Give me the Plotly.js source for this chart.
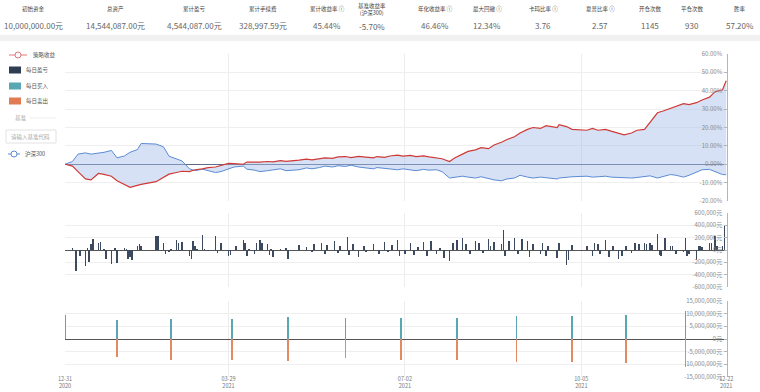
<!DOCTYPE html>
<html><head><meta charset="utf-8">
<script src="https://cdn.plot.ly/plotly-3.0.1.min.js"></script>
<style>html,body{margin:0;padding:0;background:#fff;}#chart{width:760px;height:392px;}</style>
</head><body><div id="chart"></div>
<script>
// ---------- DATA ----------
const headerLabels = ["初始资金","总资产","累计盈亏","累计手续费","累计收益率 ⓘ","基准收益率<br>(沪深300)","年化收益率 ⓘ","最大回撤 ⓘ","卡玛比率 ⓘ","夏普比率 ⓘ","开仓次数","平仓次数","胜率"];
const headerValues = ["10,000,000.00元","14,544,087.00元","4,544,087.00元","328,997.59元","45.44%","-5.70%","46.46%","12.34%","3.76","2.57","1145","930","57.20%"];

const curveDates = ["2020-12-31","2021-01-04","2021-01-07","2021-01-11","2021-01-14","2021-01-18","2021-01-21","2021-01-25","2021-01-28","2021-02-01","2021-02-04","2021-02-08","2021-02-10","2021-02-18","2021-02-22","2021-02-25","2021-03-01","2021-03-04","2021-03-08","2021-03-11","2021-03-15","2021-03-18","2021-03-22","2021-03-25","2021-03-29","2021-04-01","2021-04-06","2021-04-08","2021-04-12","2021-04-15","2021-04-19","2021-04-22","2021-04-26","2021-04-29","2021-05-06","2021-05-10","2021-05-13","2021-05-17","2021-05-20","2021-05-24","2021-05-27","2021-05-31","2021-06-03","2021-06-07","2021-06-10","2021-06-15","2021-06-17","2021-06-21","2021-06-24","2021-06-28","2021-07-01","2021-07-05","2021-07-08","2021-07-12","2021-07-15","2021-07-19","2021-07-22","2021-07-26","2021-07-29","2021-08-02","2021-08-05","2021-08-09","2021-08-12","2021-08-16","2021-08-19","2021-08-23","2021-08-26","2021-08-30","2021-09-02","2021-09-06","2021-09-09","2021-09-13","2021-09-16","2021-09-22","2021-09-23","2021-09-27","2021-09-30","2021-10-08","2021-10-11","2021-10-14","2021-10-18","2021-10-21","2021-10-25","2021-10-28","2021-11-01","2021-11-04","2021-11-08","2021-11-11","2021-11-15","2021-11-18","2021-11-22","2021-11-25","2021-11-29","2021-12-02","2021-12-06","2021-12-09","2021-12-13","2021-12-16","2021-12-20","2021-12-22"];
const strategyReturn = [0,-1,-4,-8,-8.5,-5,-5.5,-6.5,-9,-11,-12.6,-11.5,-11,-9.5,-7,-5.4,-4.5,-3.8,-4,-3,-2.5,-1.8,-1.5,-0.5,0.5,0.3,0,1.2,1.0,1.2,1.5,1.3,2,1.6,2.2,2.8,2.4,3.0,3.5,3.2,4.0,4.2,3.6,4.3,4.0,3.5,4.2,3.8,4.5,5.0,4.4,4.8,4.2,4.6,4.0,3.5,3.0,1.5,3.5,5.5,7.0,7.8,9.0,8.5,10.5,12.0,13.5,15,17,19,20,19.5,21,20,21.5,20.5,19,18.5,19.5,18.5,19,18,17,16,17,18.5,19,23,28,29,30.5,31.5,33,32.5,33.5,35,36.5,39.5,40.5,45.44];
const benchmarkReturn = [0,1.5,5.5,6.2,5.5,6.0,6.5,7.5,3.5,4.5,6.5,8.0,11.3,11.0,9.5,4.4,3.0,1.8,-2.5,-3.5,-2.7,-3.6,-4.5,-4.0,-2.7,-1.5,-1.0,-2.7,-3.2,-4.0,-3.5,-3.0,-2.5,-3.5,-3.0,-2.0,-2.5,-1.8,-1.0,-1.5,-0.8,-1.2,-0.5,-1.5,-2.0,-2.5,-1.8,-2.2,-2.8,-3.0,-2.5,-3.0,-3.5,-2.8,-3.2,-3.0,-4.0,-7.5,-7.0,-6.5,-7.0,-7.5,-6.8,-8.0,-8.5,-9.0,-8.0,-7.5,-6.0,-7.0,-7.5,-7.0,-7.2,-8.0,-7.5,-7.0,-6.8,-6.5,-7.0,-6.8,-6.5,-7.0,-7.2,-7.0,-7.5,-7.2,-6.5,-6.3,-7.5,-6.8,-5.6,-6.0,-7.0,-6.0,-4.5,-3.0,-2.8,-4.0,-5.6,-5.7];

const pnlDates = ["2021-01-04","2021-01-06","2021-01-08","2021-01-11","2021-01-12","2021-01-13","2021-01-14","2021-01-15","2021-01-18","2021-01-19","2021-01-21","2021-01-22","2021-01-25","2021-01-27","2021-01-28","2021-02-01","2021-02-02","2021-02-03","2021-02-04","2021-02-05","2021-02-08","2021-02-09","2021-02-10","2021-02-18","2021-02-19","2021-02-22","2021-02-23","2021-02-25","2021-02-26","2021-03-01","2021-03-02","2021-03-03","2021-03-04","2021-03-08","2021-03-09","2021-03-10","2021-03-11","2021-03-12","2021-03-15","2021-03-16","2021-03-18","2021-03-22","2021-03-23","2021-03-25","2021-03-29","2021-03-30","2021-04-02","2021-04-06","2021-04-07","2021-04-08","2021-04-09","2021-04-12","2021-04-13","2021-04-15","2021-04-16","2021-04-19","2021-04-20","2021-04-21","2021-04-22","2021-04-26","2021-04-29","2021-04-30","2021-05-06","2021-05-10","2021-05-13","2021-05-14","2021-05-18","2021-05-20","2021-05-21","2021-05-25","2021-05-27","2021-05-28","2021-06-01","2021-06-02","2021-06-04","2021-06-07","2021-06-10","2021-06-11","2021-06-15","2021-06-18","2021-06-21","2021-06-23","2021-06-25","2021-06-28","2021-06-29","2021-07-02","2021-07-05","2021-07-07","2021-07-09","2021-07-12","2021-07-14","2021-07-16","2021-07-19","2021-07-21","2021-07-23","2021-07-26","2021-07-28","2021-07-30","2021-08-02","2021-08-04","2021-08-06","2021-08-09","2021-08-11","2021-08-13","2021-08-16","2021-08-17","2021-08-19","2021-08-23","2021-08-24","2021-08-25","2021-08-27","2021-08-30","2021-09-01","2021-09-03","2021-09-06","2021-09-07","2021-09-09","2021-09-13","2021-09-14","2021-09-16","2021-09-17","2021-09-22","2021-09-23","2021-09-27","2021-09-28","2021-09-30","2021-10-08","2021-10-11","2021-10-12","2021-10-14","2021-10-15","2021-10-18","2021-10-20","2021-10-22","2021-10-25","2021-10-27","2021-10-29","2021-11-01","2021-11-03","2021-11-05","2021-11-08","2021-11-09","2021-11-11","2021-11-12","2021-11-15","2021-11-16","2021-11-17","2021-11-19","2021-11-22","2021-11-23","2021-11-25","2021-11-29","2021-11-30","2021-12-01","2021-12-02","2021-12-06","2021-12-07","2021-12-08","2021-12-09","2021-12-13","2021-12-14","2021-12-16","2021-12-17","2021-12-20","2021-12-21"];
const dailyPnl = [30000,-340000,-100000,-260000,40000,-195000,90000,180000,115000,135000,20000,-140000,-230000,30000,-205000,30000,20000,-150000,-120000,-160000,60000,100000,65000,225000,225000,120000,-70000,-30000,20000,160000,120000,-20000,135000,-100000,-150000,145000,60000,20000,240000,20000,-15000,225000,-50000,115000,-100000,-80000,60000,160000,110000,-100000,20000,-60000,120000,170000,110000,90000,-80000,20000,-120000,20000,40000,-140000,75000,55000,-40000,90000,120000,-60000,80000,150000,-50000,60000,210000,-80000,90000,-110000,70000,-40000,100000,-70000,130000,-30000,80000,170000,-90000,-60000,110000,-80000,50000,130000,-100000,150000,-60000,40000,-130000,-180000,120000,170000,200000,90000,-70000,150000,110000,-50000,180000,60000,130000,100000,320000,-90000,150000,200000,-60000,180000,140000,-110000,90000,-70000,120000,-90000,60000,-130000,110000,-250000,-160000,80000,60000,-90000,120000,90000,-60000,170000,-110000,70000,-140000,-90000,60000,-50000,110000,90000,110000,100000,120000,80000,260000,-80000,-100000,190000,70000,70000,-60000,-40000,200000,-100000,-60000,-160000,70000,70000,50000,120000,120000,230000,60000,60000,400000];

const tradeDates = ["2020-12-31","2021-01-28","2021-02-26","2021-03-31","2021-04-30","2021-05-31","2021-06-30","2021-07-30","2021-08-31","2021-09-30","2021-10-29","2021-11-30"];
const dailyBuy  = [9500000,7400000,8000000,8000000,8700000,8400000,8400000,8400000,8900000,8900000,9300000,11000000];
const dailySell = [0,-7100000,-8200000,-8200000,-8600000,-7600000,-8200000,-8300000,-8900000,-8900000,-9300000,-11000000];

const xTickVals = ["2020-12-31","2021-03-29","2021-07-02","2021-10-05","2021-12-22"];
const xTickText = ["12-31<br>2020","03-29<br>2021","07-02<br>2021","10-05<br>2021","12-22<br>2021"];
const pctTicks = [-20,-10,0,10,20,30,40,50,60];
const pnlTicks = [-600000,-400000,-200000,0,200000,400000,600000];
const tradeTicks = [-15000000,-10000000,-5000000,0,5000000,10000000,15000000];

// ---------- LAYOUT HELPERS ----------
const L=65,R=727,T=54,B=377;
const px = x => (x-L)/(R-L);
const py = y => (B-y)/(B-T);
const FONT = '"Noto Sans CJK SC", "Noto Sans", sans-serif';
const fmtPct = v => v.toFixed(2)+'%';
const fmtMoney = v => v.toLocaleString('en-US')+'元';

const RED = '#d03a36', BLUE = '#5b8bd3';

const traces = [
  {x:curveDates, y:benchmarkReturn, type:'scatter', mode:'lines', line:{color:BLUE, width:1}, xaxis:'x', yaxis:'y', hoverinfo:'skip'},
  {x:curveDates, y:strategyReturn, type:'scatter', mode:'lines', line:{color:RED, width:1.2}, fill:'tonexty', fillcolor:'rgba(165,188,232,0.45)', xaxis:'x', yaxis:'y', hoverinfo:'skip'},
  {x:pnlDates, y:dailyPnl, type:'bar', marker:{color:'#3b4a5e'}, width:0.8*86400000, xaxis:'x2', yaxis:'y2', hoverinfo:'skip'},
  {x:tradeDates, y:dailyBuy, type:'bar', marker:{color:'#5aa7b4'}, width:0.8*86400000, xaxis:'x3', yaxis:'y3', hoverinfo:'skip'},
  {x:tradeDates, y:dailySell, type:'bar', marker:{color:'#e48a62'}, width:0.8*86400000, xaxis:'x3', yaxis:'y3', hoverinfo:'skip'}
];

const xRange = ["2020-12-31","2021-12-22 10:00"];
const xBase = {type:'date', range:xRange, showgrid:true, gridcolor:'#ececec', gridwidth:1, tickvals:xTickVals, ticktext:xTickText, zeroline:false, showline:false, ticks:'', fixedrange:true, ticklabeloverflow:'allow'};
const yBase = {side:'right', ticklabelposition:'inside', ticklabeloverflow:'allow', showline:true, linecolor:'#b5b5b5', linewidth:1, ticks:'inside', ticklen:3, tickcolor:'#b5b5b5', showgrid:true, gridcolor:'#efefef', tickfont:{size:6, color:'#8a8a8a', family:FONT}, fixedrange:true};

const layout = {
  width:760, height:392, margin:{l:L, r:760-R, t:T, b:392-B}, paper_bgcolor:'#fff', plot_bgcolor:'#fff',
  showlegend:false, bargap:0, barmode:'relative', font:{family:FONT},
  xaxis: Object.assign({}, xBase, {domain:[0,1], anchor:'y', showticklabels:false}),
  xaxis2: Object.assign({}, xBase, {domain:[0,1], anchor:'y2', showticklabels:false, matches:'x'}),
  xaxis3: Object.assign({}, xBase, {domain:[0,1], anchor:'y3', showticklabels:true, matches:'x', ticklabelstandoff:-3, tickfont:{size:5.5, color:'#777', family:FONT}}),
  yaxis: Object.assign({}, yBase, {domain:[py(201), 1], range:[-20,60], tickvals:pctTicks, ticktext:pctTicks.map(fmtPct), zeroline:true, zerolinecolor:'#5d6c8a', zerolinewidth:1}),
  yaxis2: Object.assign({}, yBase, {domain:[py(287), py(213)], range:[-600000,600000], tickvals:pnlTicks, ticktext:pnlTicks.map(fmtMoney), zeroline:true, zerolinecolor:'#555', zerolinewidth:1}),
  yaxis3: Object.assign({}, yBase, {domain:[0, py(301)], range:[-15000000,15000000], tickvals:tradeTicks, ticktext:tradeTicks.map(fmtMoney), zeroline:true, zerolinecolor:'#555', zerolinewidth:1}),
  annotations: [], shapes: []
};

// header
const headerX = [33,115,194,263,327,372,435,487,543,600,650,692,740];
headerLabels.forEach((t,i)=>{
  const twoLine = t.indexOf('<br>')>=0;
  layout.annotations.push({xref:'paper', yref:'paper', x:px(headerX[i]), y:py(twoLine?10:9), text:t, showarrow:false, xanchor:'center', yanchor:'middle', font:{size:5.5, color:'#444', family:FONT}});
  layout.annotations.push({xref:'paper', yref:'paper', x:px(headerX[i]), y:py(twoLine?27:25), text:headerValues[i], showarrow:false, xanchor:'center', yanchor:'middle', font:{size:8, color:'#666', family:FONT}});
});
layout.shapes.push({type:'rect', xref:'paper', yref:'paper', x0:px(0), x1:px(760), y0:py(41), y1:py(35), fillcolor:'#f1f1f1', line:{width:0}, layer:'below'});

// legend (custom)
function legendText(x,y,t,c){ layout.annotations.push({xref:'paper', yref:'paper', x:px(x), y:py(y), text:t, showarrow:false, xanchor:'left', yanchor:'middle', font:{size:5.5, color:c||'#555', family:FONT}}); }
function legendLine(x0,x1,y,color){
  layout.shapes.push({type:'line', xref:'paper', yref:'paper', x0:px(x0), x1:px(x1), y0:py(y), y1:py(y), line:{color:color, width:1}});
  const cx=(x0+x1)/2;
  layout.shapes.push({type:'circle', xref:'paper', yref:'paper', x0:px(cx-3), x1:px(cx+3), y0:py(y+3), y1:py(y-3), line:{color:color, width:1}, fillcolor:'#fff'});
}
function legendRect(y,color){ layout.shapes.push({type:'rect', xref:'paper', yref:'paper', x0:px(9), x1:px(21), y0:py(y+3.5), y1:py(y-3.5), fillcolor:color, line:{width:0}}); }
legendLine(9,27,55,'#e0767a'); legendText(31,55,'策略收益');
legendRect(70,'#2f3d52'); legendText(24,70,'每日盈亏');
legendRect(86,'#5aa7b4'); legendText(24,86,'每日买入');
legendRect(101,'#e07b53'); legendText(24,101,'每日卖出');
legendText(13,118,'基准','#aaa');
layout.shapes.push({type:'line', xref:'paper', yref:'paper', x0:px(30), x1:px(56), y0:py(118), y1:py(118), line:{color:'#eee', width:1}});
layout.shapes.push({type:'rect', xref:'paper', yref:'paper', x0:px(6), x1:px(56), y0:py(143), y1:py(130), line:{color:'#e2e2e2', width:1}, fillcolor:'#fff'});
legendText(9,137,'请输入基准代码','#aaa');
legendLine(8,20,154,BLUE); legendText(23,154,'沪深300');

Plotly.newPlot('chart', traces, layout, {staticPlot:true, displayModeBar:false});
</script></body></html>
